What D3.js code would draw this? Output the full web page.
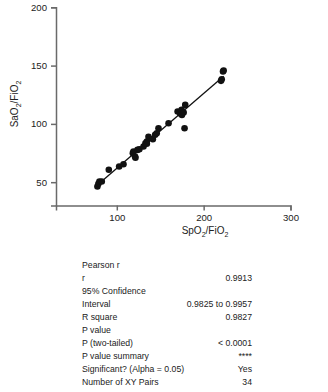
<!DOCTYPE html>
<html><head><meta charset="utf-8">
<script src="https://cdn.jsdelivr.net/npm/d3@7"></script>
<style>
html,body{margin:0;padding:0;background:#fff;}
svg{display:block;font-family:"Liberation Sans",Arial,Helvetica,sans-serif;}
</style></head>
<body>
<svg id="c" width="328" height="392"></svg>
<script>
const spo2 = [77.7,78.8,80,82.7,90.8,102.7,107.7,118.5,119.2,121,121.5,123.8,126,130.8,133,134.6,134.6,136.5,141.5,144.2,146,148,159.6,170,173,174.6,175,177,178.8,178,220,220.8,223,222.3];
const sao2 = [46.3,48.6,50.6,50.6,60.6,63.4,65.4,74.9,76.3,72,71,77.7,78.3,80.6,83.4,84.9,82.9,89,86.9,90.6,92,96.3,100.6,110.6,109,112,107.7,109.7,116.3,96.3,136.9,138.3,145.7,144.9];
const xTicks = [100,200,300];
const yTicks = [50,100,150,200];
const statLabels = ["Pearson r","r","95% Confidence","Interval","R square","P value","P (two-tailed)","P value summary","Significant? (Alpha = 0.05)","Number of XY Pairs"];
const statValues = ["","0.9913","","0.9825 to 0.9957","0.9827","","< 0.0001","****","Yes","34"];

const svg = d3.select("#c");
const x = d3.scaleLinear().domain([30,300]).range([56,290.5]);
const y = d3.scaleLinear().domain([30,200]).range([205.5,7.3]);
const axisCol = "#6a6a6a";

const gx = svg.append("g").attr("transform","translate(0,205.5)")
  .call(d3.axisBottom(x).tickValues(xTicks).tickSize(5).tickPadding(4));
const gy = svg.append("g").attr("transform","translate(56,0)")
  .call(d3.axisLeft(y).tickValues(yTicks).tickSize(5).tickPadding(4));
[gx,gy].forEach(g=>{
  g.select(".domain").attr("stroke",axisCol).attr("stroke-width",1.5);
  g.selectAll(".tick line").attr("stroke",axisCol).attr("stroke-width",1.5);
  g.selectAll(".tick text").attr("fill","#222").style("font-size","9.6px").style("font-family","Liberation Sans, Arial, sans-serif");
});

// regression line
const n = spo2.length;
const mx = d3.mean(spo2), my = d3.mean(sao2);
let sxy=0,sxx=0;
for(let i=0;i<n;i++){sxy+=(spo2[i]-mx)*(sao2[i]-my);sxx+=(spo2[i]-mx)**2;}
const slope = sxy/sxx, icpt = my-slope*mx;
const [x0,x1] = d3.extent(spo2);
svg.append("line")
  .attr("x1",x(x0)).attr("y1",y(icpt+slope*x0))
  .attr("x2",x(x1)).attr("y2",y(icpt+slope*x1))
  .attr("stroke","#111").attr("stroke-width",1.3);

svg.append("g").selectAll("circle").data(spo2).join("circle")
  .attr("cx",d=>x(d)).attr("cy",(d,i)=>y(sao2[i])).attr("r",3.3).attr("fill","#111");

// axis titles
const xt = svg.append("text").attr("x",205).attr("y",234).attr("text-anchor","middle")
  .attr("fill","#222").style("font-size","10px");
xt.append("tspan").text("SpO");
xt.append("tspan").text("2").attr("dy",2.5).style("font-size","7px");
xt.append("tspan").text("/FiO").attr("dy",-2.5);
xt.append("tspan").text("2").attr("dy",2.5).style("font-size","7px");

const yt = svg.append("text").attr("transform","translate(18,104) rotate(-90)").attr("text-anchor","middle")
  .attr("fill","#222").style("font-size","10px");
yt.append("tspan").text("SaO");
yt.append("tspan").text("2").attr("dy",2.5).style("font-size","7px");
yt.append("tspan").text("/FiO").attr("dy",-2.5);
yt.append("tspan").text("2").attr("dy",2.5).style("font-size","7px");

// stats table
const rowY = d3.scaleLinear().domain([0,9]).range([268,385]);
const tbl = svg.append("g").style("font-size","8.7px").attr("fill","#222");
tbl.selectAll("text.l").data(statLabels).join("text").attr("class","l")
  .attr("x",82).attr("y",(d,i)=>rowY(i)).text(d=>d);
tbl.selectAll("text.v").data(statValues).join("text").attr("class","v")
  .attr("x",252).attr("y",(d,i)=>rowY(i)).attr("text-anchor","end").text(d=>d);
</script>
</body></html>
